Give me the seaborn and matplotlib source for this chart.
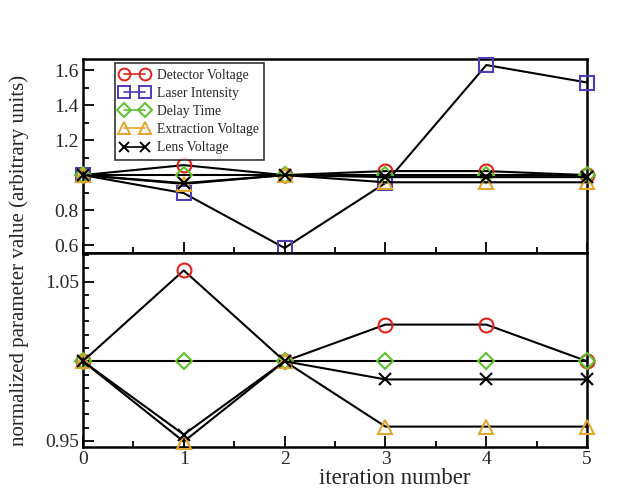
import numpy as np
import pandas as pd
import matplotlib
matplotlib.use("Agg")
import matplotlib.pyplot as plt
import seaborn as sns
from matplotlib.lines import Line2D
from matplotlib.ticker import MultipleLocator, FixedLocator

iterations = [0, 1, 2, 3, 4, 5]
detector_voltage = [1.0, 1.057, 1.0, 1.023, 1.023, 1.0]
laser_intensity = [1.0, 0.897, 0.583, 0.955, 1.63, 1.53]
delay_time = [1.0, 1.0, 1.0, 1.0, 1.0, 1.0]
extraction_voltage = [1.0, 0.9496, 1.0, 0.959, 0.959, 0.959]
lens_voltage = [1.0, 0.954, 1.0, 0.9886, 0.9886, 0.9886]

series_names = ["Detector Voltage", "Laser Intensity", "Delay Time",
                "Extraction Voltage", "Lens Voltage"]
series_values = [detector_voltage, laser_intensity, delay_time,
                 extraction_voltage, lens_voltage]
colors = ["#e3211c", "#4b3fb5", "#5cc02c", "#e2a52e", "#000000"]
markers = ["o", "s", "D", "^", "x"]
msizes = [10, 10, 8, 10, 9]

top_yticks = [0.6, 0.8, 1.0, 1.2, 1.4, 1.6]
top_ylabels = ["0.6", "0.8", "", "1.2", "1.4", "1.6"]
bot_yticks = [0.95, 1.0, 1.05]
bot_ylabels = ["0.95", "", "1.05"]

sns.set_theme(style="ticks")
plt.rcParams["font.family"] = ["Liberation Serif", "DejaVu Serif"]

fig = plt.figure(figsize=(6.28, 4.91), dpi=100)
ax1 = fig.add_axes([0.132, 0.485, 0.803, 0.395])
ax2 = fig.add_axes([0.132, 0.0896, 0.803, 0.3954])

rows = []
for name, vals in zip(series_names, series_values):
    for x, v in zip(iterations, vals):
        rows.append({"iteration": x, "value": v, "series": name})
df = pd.DataFrame(rows)

def draw(ax, names):
    for name, c, m, ms in zip(series_names, colors, markers, msizes):
        if name not in names:
            continue
        sub = df[df["series"] == name]
        sns.lineplot(data=sub, x="iteration", y="value", ax=ax, color="black",
                     lw=1.5, marker=m, markersize=ms, markerfacecolor="none",
                     markeredgecolor=c, markeredgewidth=1.5, clip_on=False,
                     legend=False, zorder=3)

draw(ax1, series_names)
draw(ax2, [n for n in series_names if n != "Laser Intensity"])

for ax in (ax1, ax2):
    ax.set_xlim(0, 5)
    ax.set_xlabel("")
    ax.set_ylabel("")
    for s in ax.spines.values():
        s.set_visible(True)
        s.set_linewidth(1.8)
        s.set_color("black")
    ax.xaxis.set_major_locator(MultipleLocator(1))
    ax.xaxis.set_minor_locator(MultipleLocator(0.5))
    ax.tick_params(which="both", direction="in", top=False, right=False,
                   color="black", labelsize=14, width=1.3)
    ax.tick_params(which="major", length=8, pad=3)
    ax.tick_params(which="minor", length=4)

ax1.set_ylim(0.555, 1.665)
ax1.set_yticks(top_yticks)
ax1.set_yticklabels(top_ylabels)
ax1.yaxis.set_minor_locator(MultipleLocator(0.1))
ax1.tick_params(axis="x", labelbottom=False)

ax2.set_ylim(0.9462, 1.068)
ax2.set_yticks(bot_yticks)
ax2.set_yticklabels(bot_ylabels)
ax2.yaxis.set_minor_locator(FixedLocator(list(np.arange(0.95, 1.07, 0.1 / 12))))
ax2.set_xticks(iterations)
ax2.set_xticklabels([str(i) for i in iterations])

handles = [Line2D([], [], color=c, marker=m, markersize=ms * 0.85,
                  markerfacecolor="none", markeredgecolor=c,
                  markeredgewidth=1.4, lw=1.2)
           for c, m, ms in zip(colors, markers, msizes)]
leg = ax1.legend(handles, series_names, loc="upper left",
                 bbox_to_anchor=(0.063, 0.978), borderaxespad=0,
                 fontsize=9.8, numpoints=2, handlelength=2.1,
                 handletextpad=0.6, labelspacing=0.38, fancybox=False,
                 frameon=True, edgecolor="black", borderpad=0.4)
leg.get_frame().set_linewidth(1.2)

fig.text(0.03, 0.47, "normalized parameter value (arbitrary units)",
         rotation=90, ha="center", va="center", fontsize=15)
fig.text(0.629, 0.025, "iteration number", ha="center", va="center",
         fontsize=16.5)

fig.savefig("out.png", dpi=100, facecolor="white")
